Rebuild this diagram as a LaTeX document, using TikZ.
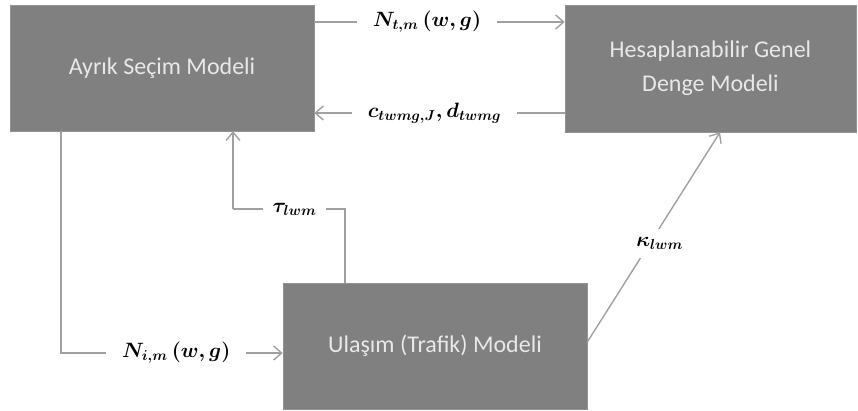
\documentclass[tikz,border=0pt]{standalone}
\usepackage{fontspec}
\setmainfont{Carlito}
\usetikzlibrary{arrows.meta}
\definecolor{boxgray}{RGB}{128,128,128}
\definecolor{boxtext}{RGB}{232,232,232}
\definecolor{linkgray}{RGB}{160,160,160}
% bold math label, enlarged past the largest design size
\newcommand\mathlabel[1]{\scalebox{1.2}{\fontsize{17.28}{20}\selectfont\boldmath$#1$}}
\tikzset{
  modelbox/.style={draw=boxgray!85, fill=boxgray, line width=0.6pt,
    text=boxtext, align=center, inner sep=0pt,
    font=\fontsize{24}{34}\selectfont},
  link/.style={draw=linkgray, line width=1.4pt,
    -{Straight Barb[length=8pt,width=14pt,line width=1.4pt]}},
  plainlink/.style={draw=linkgray, line width=1.4pt},
  lab/.style={fill=white, inner xsep=16pt, inner ysep=2pt, text=black}
}
\begin{document}
\begin{tikzpicture}[x=1pt,y=-1pt]
\useasboundingbox (0,0) rectangle (858,410);

% the three models
\node[modelbox, minimum width=304pt, minimum height=126pt] (A) at (162,68) {Ayrık Seçim Modeli};
\node[modelbox, minimum width=291pt, minimum height=127pt] (H) at (710.5,68.5) {Hesaplanabilir Genel\\Denge Modeli};
\node[modelbox, minimum width=304pt, minimum height=126pt] (U) at (435,346) {Ulaşım (Trafik) Modeli};

% flows between the top models
\draw[link] (A.east |- 0,22) -- node[lab, pos=0.45] (n1) {\mathlabel{N_{t,m}\left(w,g\right)}} (H.west |- 0,22);
\draw[link] (H.west |- 0,113) -- node[lab, pos=0.52] (n2) {\mathlabel{c_{twmg,J}, d_{twmg}}} (A.east |- 0,113);

% choice model to transport model
\draw[link] (A.south -| 61,0) |- node[lab, pos=0.76] (n3) {\mathlabel{N_{i,m}\left(w,g\right)}} (U.west |- 0,353);

% travel costs back to the choice model
\coordinate (t1) at (345,209);
\coordinate (t2) at (233,209);
\draw[plainlink] (U.north -| t1) -- (t1) -- node[lab, inner xsep=10pt, pos=0.45] (n4) {\mathlabel{\tau_{lwm}}} (t2);
\draw[link] (t2) -- (A.south -| t2);

% transport model to the equilibrium model
\draw[link] (U.east |- 0,342) -- node[lab, inner xsep=4pt, inner ysep=8pt, pos=0.47, xshift=10pt] (n5) {\mathlabel{\kappa_{lwm}}} (H.south -| 720,0);
\end{tikzpicture}
\end{document}
